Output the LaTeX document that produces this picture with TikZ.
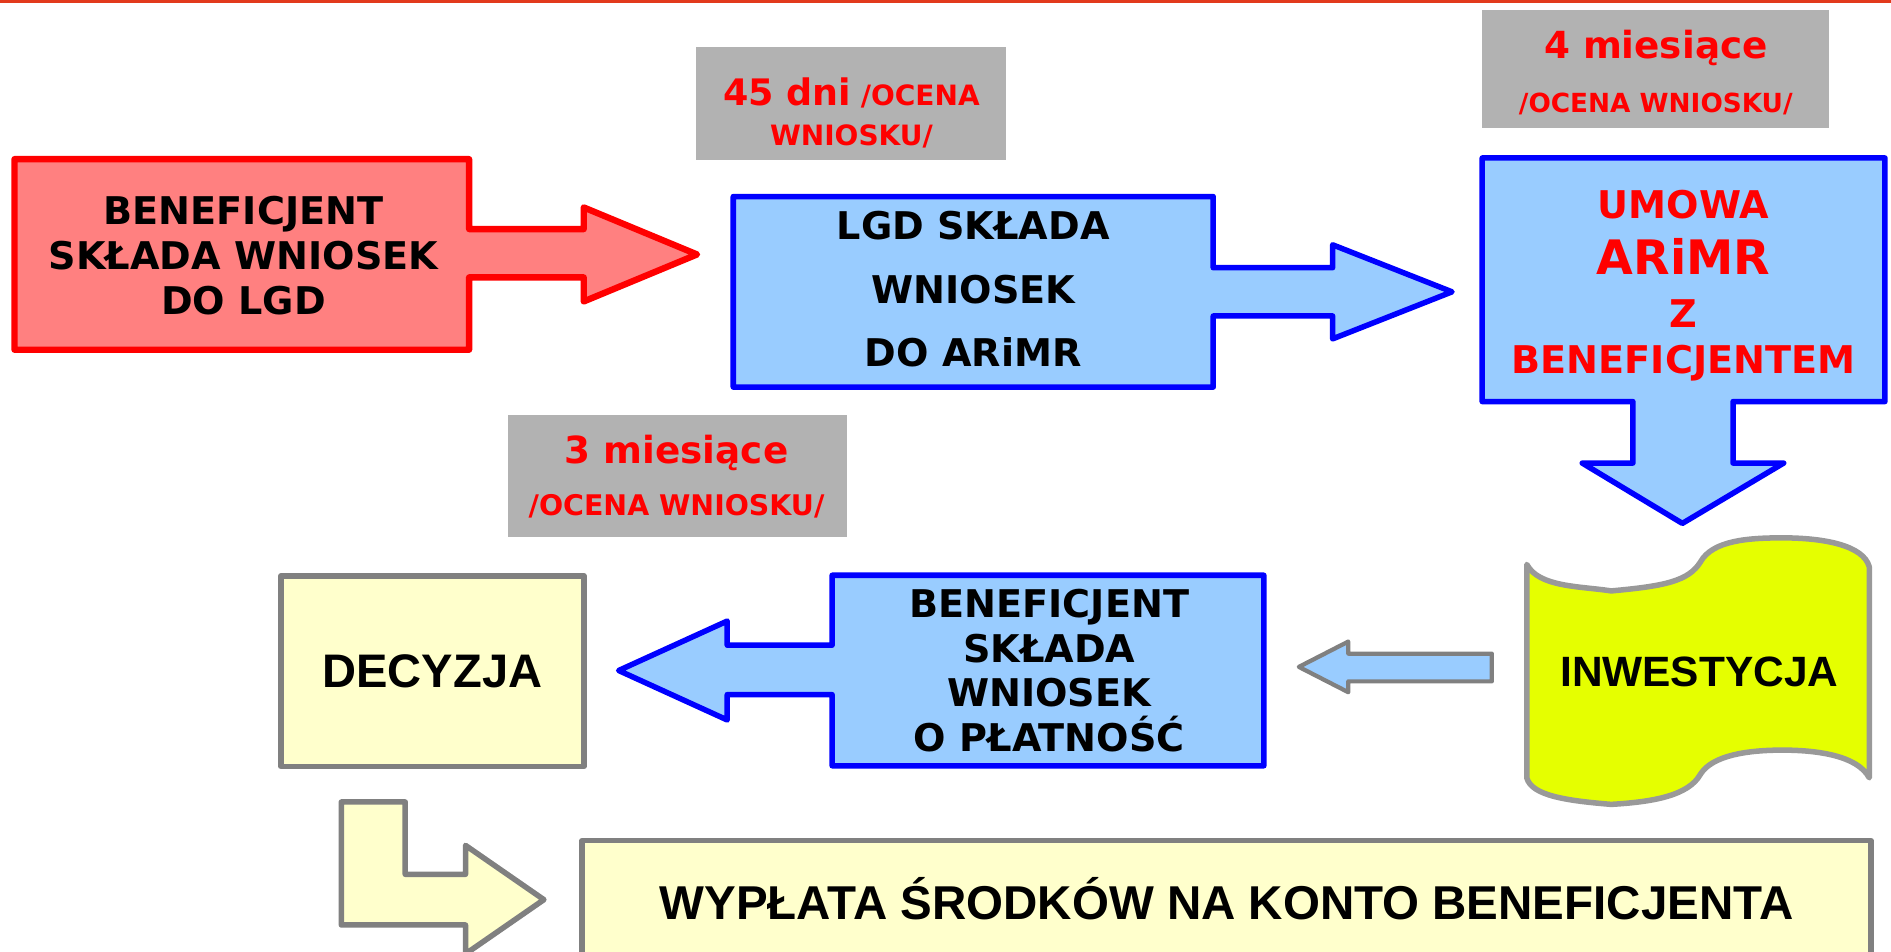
\documentclass[tikz,border=0pt]{standalone}
\usepackage{fontspec}
\setmainfont{DejaVu Sans}
\newfontfamily\arialfont{Liberation Sans}

\definecolor{topred}{HTML}{E23A1C}
\definecolor{pinkfill}{HTML}{FF8080}
\definecolor{skyfill}{HTML}{99CCFF}
\definecolor{creamfill}{HTML}{FFFFCC}
\definecolor{limefill}{HTML}{E5FF00}
\definecolor{timegrey}{HTML}{B2B2B2}
\definecolor{frameline}{HTML}{808080}
\definecolor{docline}{HTML}{999999}

\newcommand\fsz[2]{\fontsize{#1}{#2}\selectfont}

\tikzset{
  redcall/.style={draw=red, fill=pinkfill, line width=1.5pt, line join=round},
  bluecall/.style={draw=blue, fill=skyfill, line width=1.3pt, line join=round},
  greyshape/.style={draw=frameline, fill=creamfill, line width=1.3pt, line join=round},
  boldtext/.style={align=center, inner sep=0pt},
  redtext/.style={boldtext, text=red},
  ariallabel/.style={align=center, inner sep=0pt}
}

\begin{document}
\begin{tikzpicture}[x=0.01cm, y=-0.01cm]
  \useasboundingbox (0,0) rectangle (1568,789);
  \fill[topred] (0,0) rectangle (1568,2.2);

  \fill[timegrey] (577,39) rectangle (834,133);
  \node[redtext, font=\bfseries\fsz{6.6}{9.4}] (days45) at (706,94) {{\fsz{8.6}{9.4}45 dni} /OCENA\\WNIOSKU/};
  \fill[timegrey] (1229,8) rectangle (1517,106);
  \node[redtext, font=\bfseries\fsz{6.2}{12.8}] (months4) at (1373,60) {{\fsz{8.8}{12.8}4 miesiące}\\/OCENA WNIOSKU/};
  \fill[timegrey] (421,344) rectangle (702,445);
  \node[redtext, font=\bfseries\fsz{6.7}{12.2}] (months3) at (561,395) {{\fsz{8.8}{12.2}3 miesiące}\\/OCENA WNIOSKU/};

  \draw[redcall] (12,132) -- (389,132) -- (389,190) -- (484,190) -- (484,172) -- (578,211) -- (484,250) -- (484,230) -- (389,230) -- (389,290) -- (12,290) -- cycle;
  \node[boldtext, font=\bfseries\fsz{9}{10.7}] (applicant) at (202,212) {BENEFICJENT\\SKŁADA WNIOSEK\\DO LGD};

  \draw[bluecall] (608,163) -- (1006,163) -- (1006,222) -- (1105,222) -- (1105,203) -- (1204,242) -- (1105,281) -- (1105,262) -- (1006,262) -- (1006,321) -- (608,321) -- cycle;
  \node[boldtext, font=\bfseries\fsz{9}{15}] (lgd) at (807,240) {LGD SKŁADA\\WNIOSEK\\DO ARiMR};

  \draw[bluecall] (1229,131) -- (1563,131) -- (1563,333) -- (1437,333) -- (1437,384) -- (1479,384) -- (1395,434) -- (1312,384) -- (1354,384) -- (1354,333) -- (1229,333) -- cycle;
  \node[redtext, font=\bfseries\fsz{9}{10.8}] (contract) at (1396,237) {UMOWA\\[2.3pt]{\fsz{11.2}{10.8}ARiMR}\\[1.7pt]Z\\BENEFICJENTEM};

  \draw[draw=docline, fill=limefill, line width=1.3pt, line join=round] (1266,468)
    .. controls (1276,487) and (1310,486) .. (1336,490)
    .. controls (1380,486) and (1400,482) .. (1410,466)
    .. controls (1420,448) and (1450,446) .. (1478,446)
    .. controls (1512,446) and (1545,452) .. (1550,470)
    -- (1550,645)
    .. controls (1540,626) and (1505,622) .. (1478,622)
    .. controls (1450,622) and (1420,626) .. (1410,642)
    .. controls (1400,660) and (1370,665) .. (1336,667)
    .. controls (1300,664) and (1270,660) .. (1266,645)
    -- cycle;
  \node[ariallabel, font=\arialfont\bfseries\fsz{10}{12}] (invest) at (1409,557) {INWESTYCJA};

  \draw[draw=frameline, fill=skyfill, line width=1pt, line join=round] (1237,542) -- (1237,565) -- (1118,565) -- (1118,574) -- (1077,553) -- (1118,532) -- (1118,542) -- cycle;

  \draw[bluecall] (1048,477) -- (1048,635) -- (690,635) -- (690,576) -- (603,576) -- (603,597) -- (513,556) -- (603,515) -- (603,535) -- (690,535) -- (690,477) -- cycle;
  \node[boldtext, font=\bfseries\fsz{9}{10.5}] (payreq) at (870,556) {BENEFICJENT\\SKŁADA\\WNIOSEK\\O PŁATNOŚĆ};

  \node[greyshape, ariallabel, font=\arialfont\bfseries\fsz{11.1}{13}, minimum width=2.51cm, minimum height=1.58cm] (decision) at (358.5,556.5) {DECYZJA};

  \draw[greyshape] (283,665) -- (336,665) -- (336,725) -- (386,725) -- (386,701) -- (451,746) -- (386,791) -- (386,767) -- (283,767) -- cycle;

  \node[greyshape, ariallabel, font=\arialfont\bfseries\fsz{11.2}{13}, minimum width=10.68cm, minimum height=0.96cm] (payout) at (1017,745) {WYPŁATA ŚRODKÓW NA KONTO BENEFICJENTA};
\end{tikzpicture}
\end{document}
